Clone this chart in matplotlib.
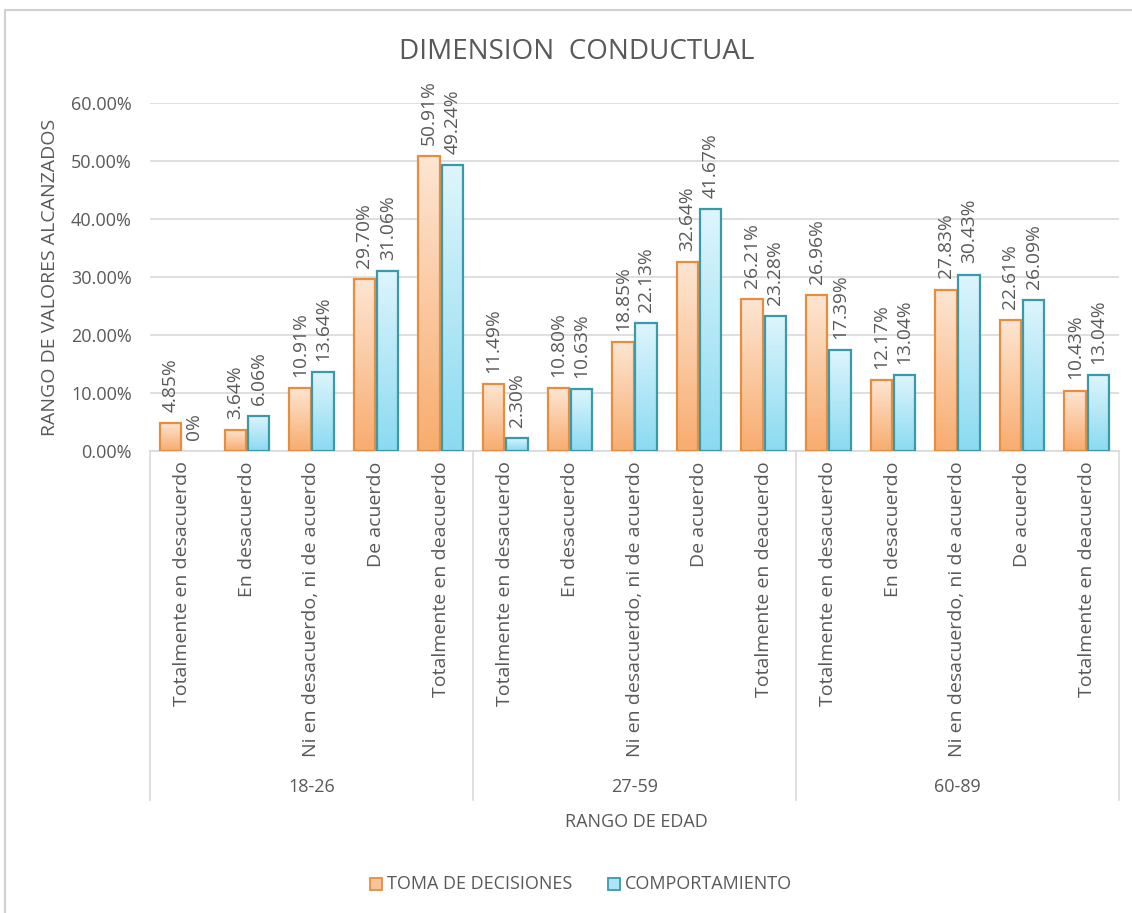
"""Grouped bar chart: Dimension conductual by age range."""
import matplotlib

matplotlib.use("Agg")
import matplotlib.pyplot as plt
import numpy as np
from matplotlib.colors import LinearSegmentedColormap
from matplotlib.patches import Rectangle

plt.rcParams["font.family"] = ["Open Sans", "DejaVu Sans"]

groups = ["18-26", "27-59", "60-89"]
categories = [
    "Totalmente en desacuerdo",
    "En desacuerdo",
    "Ni en desacuerdo, ni de acuerdo",
    "De acuerdo",
    "Totalmente en deacuerdo",
]
toma = [4.85, 3.64, 10.91, 29.70, 50.91,
        11.49, 10.80, 18.85, 32.64, 26.21,
        26.96, 12.17, 27.83, 22.61, 10.43]
comportamiento = [0.0, 6.06, 13.64, 31.06, 49.24,
                  2.30, 10.63, 22.13, 41.67, 23.28,
                  17.39, 13.04, 30.43, 26.09, 13.04]
series_names = ["TOMA DE DECISIONES", "COMPORTAMIENTO"]
y_ticks = [0, 10, 20, 30, 40, 50, 60]

TXT = "#595959"
GRID = "#d9d9d9"
orange_cmap = LinearSegmentedColormap.from_list("o", ["#f8ac6f", "#fde6d3"])
cyan_cmap = LinearSegmentedColormap.from_list("c", ["#8bdaf1", "#def5fc"])
orange_edge = "#e58e42"
cyan_edge = "#3a9aaa"

W, H = 1132, 913
fig = plt.figure(figsize=(W / 100, H / 100), dpi=100)
ax = fig.add_axes([150 / W, 1 - 451 / H, 969 / W, 348 / H])

n = len(toma)
x = np.arange(n)
bw = 0.33
gap = 0.015
grad = np.linspace(0, 1, 256).reshape(-1, 1)


def gradient_bars(xs, vals, cmap, edge):
    bars = ax.bar(xs, vals, width=bw, facecolor="none", edgecolor=edge,
                  linewidth=1.6, zorder=3)
    for b, v in zip(bars, vals):
        if v <= 0:
            b.set_visible(False)
            continue
        x0 = b.get_x()
        im = ax.imshow(grad, cmap=cmap, origin="lower", aspect="auto",
                       extent=[x0, x0 + bw, 0, v], zorder=2)
        im.set_clip_path(b)
    return bars


xo = x - bw / 2 - gap
xc = x + bw / 2 + gap
gradient_bars(xo, toma, orange_cmap, orange_edge)
gradient_bars(xc, comportamiento, cyan_cmap, cyan_edge)


def fmt(v):
    return "0%" if v == 0 else f"{v:.2f}%"


for xs, vals in ((xo, toma), (xc, comportamiento)):
    for xi, v in zip(xs, vals):
        ax.annotate(fmt(v), (xi, v), xytext=(0, 8), textcoords="offset points",
                    rotation=90, ha="center", va="bottom", fontsize=13.8,
                    color=TXT, annotation_clip=False)

ax.set_xlim(-0.5, n - 0.5)
ax.set_ylim(0, 60)
ax.set_yticks(y_ticks)
ax.set_yticklabels([f"{t:.2f}%" for t in y_ticks], fontsize=13, color=TXT)
ax.tick_params(axis="y", length=0, pad=13)
ax.tick_params(axis="x", length=0)
ax.set_xticks([])
ax.grid(axis="y", color=GRID, linewidth=1.2, zorder=0)
ax.set_axisbelow(True)
for s in ("top", "right", "left"):
    ax.spines[s].set_visible(False)
ax.spines["bottom"].set_color(GRID)
ax.spines["bottom"].set_linewidth(1.2)

# category labels
trans = ax.get_xaxis_transform()
for i in range(n):
    ax.text(x[i], -0.03, categories[i % len(categories)], rotation=90,
            ha="center", va="top", fontsize=14, color=TXT, transform=trans)

# group separators and labels
ng = len(categories)
sep_bottom = -(800 - 451) / 348
for g in range(len(groups) + 1):
    xs = g * ng - 0.5
    ax.plot([xs, xs], [0, sep_bottom], transform=trans, color=GRID,
            linewidth=1.2, clip_on=False)
for g, name in enumerate(groups):
    ax.text(g * ng + (ng - 1) / 2, -(787 - 451) / 348, name, ha="center",
            va="center", fontsize=13, color=TXT, transform=trans)

fig.text(636 / W, 1 - 822 / H, "RANGO DE EDAD", ha="center", va="center",
         fontsize=13, color=TXT)
fig.text(50 / W, 1 - 277 / H, "RANGO DE VALORES ALCANZADOS", rotation=90,
         ha="center", va="center", fontsize=14, color=TXT)
fig.text(577 / W, 1 - 52 / H, "DIMENSION  CONDUCTUAL", ha="center",
         va="center", fontsize=20, color=TXT)

# legend
for lx, tx, cmap, edge, name in ((370, 387, orange_cmap, orange_edge, series_names[0]),
                                 (608, 625, cyan_cmap, cyan_edge, series_names[1])):
    fig.patches.append(Rectangle((lx / W, 1 - 890 / H), 12 / W, 12 / H,
                                 transform=fig.transFigure,
                                 facecolor=cmap(0.4), edgecolor=edge,
                                 linewidth=1.3))
    fig.text(tx / W, 1 - 884 / H, name, ha="left", va="center",
             fontsize=13, color=TXT)

# chart border
fig.patches.append(Rectangle((5 / W, -0.1), 1.2, 1 - 10 / H + 0.1,
                             transform=fig.transFigure, facecolor="none",
                             edgecolor="#d0d0d0", linewidth=1.5))

fig.savefig("out.png", dpi=100)
